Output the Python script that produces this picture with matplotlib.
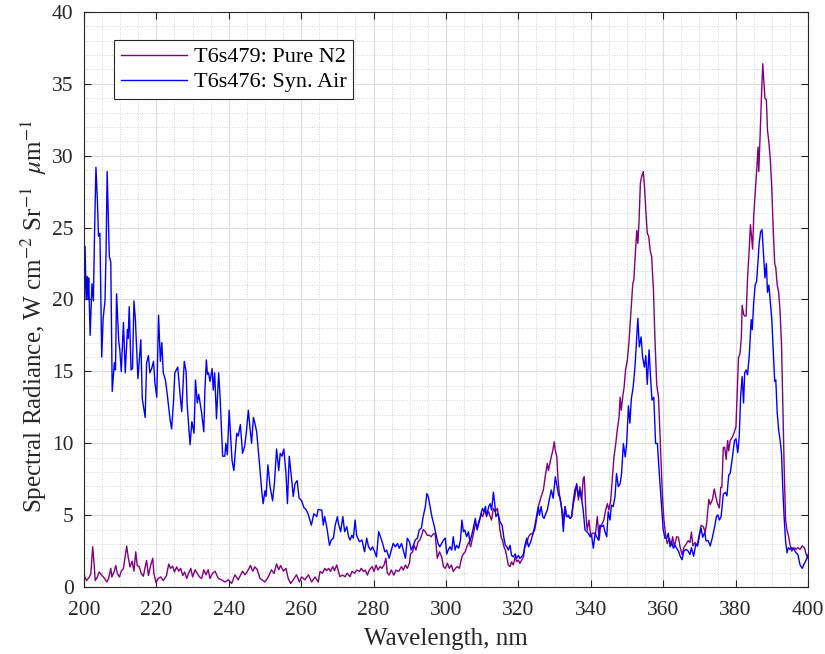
import numpy as np
import matplotlib
matplotlib.use('Agg')
from matplotlib import pyplot as plt
from matplotlib.ticker import MultipleLocator

plt.rcParams['font.family'] = ['Liberation Serif', 'DejaVu Serif']
plt.rcParams['mathtext.fontset'] = 'stix'

## T6s479: Pure N2  (wavelength nm, radiance)
wl_n2 = [200.0, 200.2, 200.7, 201.5, 201.9, 202.4, 202.8, 203.1, 203.7, 204.2, 205.0, 205.7, 206.3, 206.8,
         207.4, 207.7, 208.3, 208.8, 209.2, 209.8, 210.3, 210.9, 211.3, 211.8, 212.2, 212.7, 213.3, 213.8,
         214.3, 214.7, 215.3, 215.8, 216.4, 216.9, 217.3, 217.8, 218.4, 219.0, 219.3, 219.9, 220.5, 221.2,
         221.9, 222.8, 223.4, 223.9, 224.5, 225.0, 225.6, 226.2, 226.7, 227.3, 227.8, 228.4, 228.9, 229.5,
         230.0, 230.7, 231.3, 231.9, 232.5, 233.1, 233.7, 234.3, 234.8, 235.5, 236.2, 237.1, 238.0, 238.9,
         239.9, 240.8, 241.7, 242.6, 243.8, 244.5, 245.4, 246.0, 246.6, 247.2, 247.9, 248.6, 250.0, 250.9,
         251.8, 252.5, 253.2, 253.8, 254.3, 255.1, 255.8, 256.4, 257.1, 257.8, 258.7, 259.5, 260.1, 261.0,
         262.0, 262.9, 263.8, 264.7, 265.2, 265.9, 266.5, 267.0, 267.6, 268.1, 268.7, 269.2, 269.8, 270.2,
         270.7, 271.4, 272.1, 272.7, 273.5, 274.0, 274.8, 275.3, 276.1, 276.6, 277.2, 277.7, 278.3, 278.8,
         279.6, 280.1, 280.7, 281.2, 281.8, 282.3, 282.9, 283.4, 283.8, 284.3, 284.9, 285.6, 286.2, 286.9,
         287.7, 288.2, 288.8, 289.3, 289.9, 290.2, 290.8, 291.2, 291.7, 292.3, 292.8, 293.4, 293.7, 294.3,
         294.8, 295.4, 295.9, 296.5, 297.0, 297.6, 298.2, 298.8, 299.3, 299.8, 300.4, 300.9, 301.5, 302.0,
         302.6, 303.1, 303.7, 304.0, 304.4, 304.8, 305.3, 305.9, 306.4, 306.8, 307.2, 307.7, 308.1, 308.6,
         309.2, 309.8, 310.1, 310.7, 311.2, 311.8, 312.2, 312.6, 313.1, 313.6, 314.2, 314.5, 314.9, 315.3,
         315.6, 316.0, 316.4, 316.8, 317.2, 317.7, 318.1, 318.6, 319.1, 319.5, 320.0, 320.4, 320.9, 321.4,
         321.8, 322.3, 322.8, 323.4, 323.9, 324.5, 325.0, 325.6, 326.0, 326.3, 326.9, 327.4, 328.0, 328.3,
         328.9, 329.5, 329.9, 330.2, 330.6, 330.9, 331.3, 331.9, 332.4, 332.9, 333.3, 333.8, 334.3, 334.7,
         335.2, 335.6, 336.1, 336.6, 337.0, 337.5, 337.9, 338.2, 338.7, 339.0, 339.5, 340.0, 340.4, 340.9,
         341.3, 341.8, 342.3, 342.7, 343.2, 343.6, 344.1, 344.6, 345.0, 345.5, 346.0, 346.4, 346.9, 347.3,
         347.8, 348.1, 348.4, 348.8, 349.2, 349.6, 350.1, 350.5, 351.0, 351.6, 351.9, 352.3, 352.7, 353.0,
         353.3, 353.7, 354.0, 354.5, 354.9, 355.2, 355.6, 356.0, 356.4, 356.8, 357.3, 357.7, 358.2, 358.7,
         359.1, 359.5, 359.8, 360.2, 360.6, 361.1, 361.7, 362.2, 362.6, 363.1, 363.7, 364.2, 364.7, 365.2,
         365.7, 366.3, 366.9, 367.4, 367.8, 368.2, 368.8, 369.4, 369.9, 370.5, 371.1, 371.6, 372.0, 372.6,
         373.0, 373.6, 374.1, 374.5, 374.9, 375.5, 375.9, 376.2, 376.6, 377.0, 377.4, 377.8, 378.1, 378.5,
         379.1, 379.5, 380.1, 380.4, 380.8, 381.2, 381.6, 381.8, 382.2, 382.5, 382.9, 383.3, 383.7, 384.1,
         384.4, 384.7, 385.0, 385.4, 385.8, 386.2, 386.4, 386.7, 387.1, 387.5, 387.8, 388.1, 388.5, 388.8,
         389.2, 389.6, 390.0, 390.4, 390.8, 391.1, 391.5, 391.9, 392.3, 392.7, 393.0, 393.4, 393.8, 394.2,
         394.6, 395.0, 395.5, 396.1, 396.7, 397.2, 397.8, 398.4, 399.0, 399.5, 400.0]
rad_n2 = [1.1, 0.7, 0.45, 0.7, 0.95, 2.8, 1.6, 0.45, 0.7, 1.05, 0.8, 0.6, 0.35, 0.6,
          1.3, 0.7, 1.05, 1.5, 0.95, 0.7, 1.1, 1.3, 2.0, 2.85, 2.1, 1.4, 1.8, 1.1,
          2.45, 1.5, 1.4, 0.95, 0.75, 1.4, 1.85, 0.8, 1.5, 2.0, 0.95, 0.3, 0.6, 0.7,
          0.45, 0.8, 1.6, 1.3, 1.45, 1.05, 1.4, 1.1, 1.3, 0.8, 1.05, 0.6, 0.95, 1.3,
          0.7, 1.2, 0.95, 0.7, 0.6, 1.2, 0.85, 1.2, 0.6, 0.95, 1.1, 0.6, 0.5, 0.35,
          0.5, 0.25, 0.85, 0.5, 1.1, 0.85, 1.2, 1.5, 1.1, 1.4, 1.2, 0.6, 0.35, 0.7,
          1.2, 0.95, 1.6, 1.2, 1.5, 1.1, 1.3, 0.6, 0.25, 0.5, 0.85, 0.35, 0.7, 0.5,
          0.85, 0.35, 0.7, 0.35, 1.08, 0.96, 1.3, 1.14, 1.3, 1.08, 1.42, 1.14, 1.53, 1.18,
          0.72, 0.83, 0.72, 0.96, 0.72, 1.08, 0.96, 1.18, 1.08, 1.3, 1.08, 1.18, 0.83, 1.18,
          1.42, 1.08, 1.53, 1.18, 1.42, 1.3, 1.53, 2.0, 0.96, 0.83, 1.18, 0.83, 1.18, 1.08,
          1.42, 1.18, 1.53, 1.3, 1.65, 2.3, 2.45, 2.9, 2.57, 3.15, 3.27, 3.7, 4.0, 3.85,
          3.6, 3.6, 3.5, 3.7, 3.7, 2.0, 2.45, 2.1, 1.42, 1.3, 1.65, 1.3, 1.53, 1.08,
          1.3, 1.42, 1.3, 1.65, 2.1, 2.3, 2.45, 2.9, 3.15, 2.8, 3.27, 3.85, 4.4, 4.2,
          4.66, 5.1, 4.9, 5.35, 5.0, 5.24, 4.9, 4.66, 5.47, 5.24, 5.47, 4.9, 3.97, 3.4,
          3.27, 2.8, 2.57, 2.1, 1.53, 1.42, 1.76, 1.53, 2.1, 1.76, 1.88, 1.65, 1.88, 2.1,
          2.8, 3.03, 3.5, 3.7, 3.7, 3.97, 4.66, 5.7, 6.05, 6.3, 6.75, 7.67, 8.6, 8.1,
          8.85, 9.5, 10.1, 9.5, 9.1, 7.67, 6.5, 5.6, 4.66, 5.6, 4.9, 4.9, 4.77, 4.9,
          5.8, 6.3, 7.2, 6.05, 6.98, 6.05, 7.55, 7.67, 4.9, 3.97, 4.66, 3.5, 3.74, 3.74,
          3.74, 4.9, 3.27, 4.2, 4.43, 4.66, 5.35, 5.8, 5.35, 6.05, 7.67, 9.05, 9.98, 10.9,
          11.8, 13.2, 12.3, 13.2, 13.9, 15.1, 15.8, 16.9, 18.8, 21.1, 21.4, 23.2, 24.8, 23.9,
          25.3, 28.1, 28.5, 28.9, 27.6, 26.2, 24.6, 24.4, 23.4, 23.0, 20.7, 17.4, 14.1, 13.2,
          10.7, 8.35, 6.3, 4.66, 3.74, 3.03, 3.39, 2.9, 3.5, 2.8, 3.5, 3.46, 2.74, 2.26,
          2.74, 2.98, 3.22, 3.1, 3.82, 2.86, 3.1, 2.86, 3.58, 4.3, 4.18, 3.82, 4.42, 6.1,
          5.74, 6.1, 6.82, 6.34, 5.86, 5.5, 6.94, 6.94, 9.71, 9.71, 8.87, 10.19, 9.47, 10.19,
          10.43, 10.67, 11.15, 13.3, 15.96, 16.2, 17.4, 19.6, 18.97, 18.85, 18.85, 21.5, 23.2, 25.2,
          24.4, 23.5, 25.8, 27.3, 28.9, 30.6, 28.9, 30.9, 33.8, 36.4, 35.2, 34.0, 33.9, 31.8,
          30.9, 29.7, 27.7, 24.86, 22.5, 22.2, 21.0, 20.5, 19.1, 16.7, 13.3, 8.5, 4.66, 3.94,
          3.58, 2.98, 2.5, 2.74, 2.62, 2.74, 2.62, 2.86, 2.74, 2.26, 2.0]

## T6s476: Syn. Air
wl_air = [200.0, 200.3, 200.6, 200.9, 201.1, 201.3, 201.7, 202.2, 202.6, 202.9, 203.3, 203.7, 204.0, 204.4,
          204.9, 205.3, 205.8, 206.1, 206.4, 207.0, 207.4, 207.8, 208.4, 208.7, 209.0, 209.6, 209.9, 210.3,
          210.9, 211.4, 212.0, 212.2, 212.5, 213.0, 213.4, 213.8, 214.2, 214.9, 215.7, 216.1, 216.9, 217.3,
          217.8, 218.2, 218.7, 219.2, 219.6, 220.1, 220.6, 221.1, 221.5, 221.9, 222.5, 223.0, 223.8, 224.2,
          224.7, 225.1, 225.9, 226.5, 227.0, 227.7, 228.2, 228.5, 229.3, 229.8, 230.4, 230.8, 231.3, 231.7,
          232.5, 233.1, 233.4, 233.8, 234.1, 234.4, 234.8, 235.4, 235.7, 236.1, 236.6, 237.2, 237.6, 238.3,
          238.9, 239.2, 239.6, 240.1, 240.9, 241.4, 242.2, 242.6, 243.2, 243.8, 244.4, 244.9, 245.4, 245.8,
          246.3, 246.8, 247.2, 247.7, 248.4, 249.1, 249.5, 250.0, 250.3, 250.8, 251.4, 252.1, 252.6, 253.2,
          253.8, 254.2, 254.7, 255.2, 255.8, 256.2, 256.7, 257.4, 257.8, 258.3, 258.9, 259.4, 260.1, 260.8,
          261.3, 261.9, 262.8, 263.5, 264.3, 264.7, 265.7, 266.1, 266.5, 267.2, 267.8, 268.3, 268.9, 269.4,
          270.0, 270.3, 270.9, 271.5, 272.0, 272.6, 273.1, 273.5, 274.0, 274.4, 274.9, 275.3, 276.1, 276.8,
          277.5, 278.1, 278.6, 279.2, 279.7, 280.3, 280.8, 281.4, 281.9, 282.5, 283.1, 283.6, 284.3, 284.9,
          285.4, 286.0, 286.6, 287.1, 287.7, 288.2, 288.8, 289.3, 289.9, 290.4, 291.0, 291.5, 292.1, 292.6,
          293.2, 293.7, 294.3, 294.7, 295.1, 295.6, 296.1, 296.7, 297.2, 297.8, 298.3, 298.8, 299.3, 299.8,
          300.2, 300.6, 301.1, 301.6, 302.0, 302.5, 302.9, 303.5, 304.0, 304.4, 304.8, 305.2, 305.7, 306.2,
          306.6, 307.2, 307.7, 308.1, 308.6, 309.2, 309.8, 310.1, 310.5, 310.9, 311.2, 311.8, 312.2, 312.6,
          313.1, 313.5, 313.8, 314.4, 314.9, 315.5, 316.0, 316.4, 316.8, 317.2, 317.7, 318.1, 318.6, 319.1,
          319.5, 320.0, 320.4, 320.9, 321.4, 321.8, 322.3, 322.8, 323.4, 323.9, 324.5, 325.0, 325.5, 325.8,
          326.3, 326.7, 327.1, 327.4, 328.0, 328.5, 329.1, 329.6, 330.2, 330.6, 331.1, 331.5, 332.0, 332.4,
          332.9, 333.3, 333.8, 334.3, 334.7, 335.2, 335.6, 336.1, 336.6, 337.0, 337.5, 337.9, 338.4, 338.9,
          339.3, 339.8, 340.2, 340.7, 341.2, 341.6, 342.1, 342.5, 343.0, 343.5, 343.9, 344.4, 344.8, 345.3,
          345.7, 346.2, 346.7, 347.1, 347.6, 348.1, 348.5, 349.0, 349.5, 349.9, 350.4, 350.8, 351.2, 351.7,
          352.2, 352.7, 353.0, 353.4, 353.9, 354.3, 354.8, 355.2, 355.6, 356.1, 356.5, 356.9, 357.4, 357.9,
          358.4, 358.8, 359.3, 359.7, 360.0, 360.5, 361.0, 361.4, 361.9, 362.3, 362.8, 363.3, 363.7, 364.2,
          364.7, 365.2, 365.7, 366.3, 366.9, 367.4, 367.8, 368.4, 369.0, 369.5, 370.1, 370.5, 370.9, 371.5,
          371.8, 372.4, 373.0, 373.6, 374.1, 374.7, 375.1, 375.5, 376.0, 376.6, 377.2, 377.6, 378.1, 378.5,
          379.1, 379.7, 380.1, 380.6, 381.0, 381.4, 381.8, 382.2, 382.5, 382.9, 383.3, 383.8, 384.3, 384.6,
          385.0, 385.4, 385.8, 386.2, 386.5, 386.9, 387.3, 387.7, 388.1, 388.5, 388.8, 389.2, 389.6, 390.0,
          390.4, 390.8, 391.1, 391.5, 391.9, 392.3, 392.7, 393.0, 393.4, 393.8, 394.2, 394.6, 395.0, 395.5,
          396.1, 396.7, 397.2, 397.8, 398.4, 398.8, 399.3, 399.7, 400.0]
rad_air = [18.6, 23.7, 20.0, 21.6, 20.0, 21.5, 17.5, 21.1, 19.9, 24.4, 29.2, 26.9, 24.4, 24.6,
           16.0, 18.7, 19.9, 23.4, 28.9, 23.0, 22.6, 13.6, 15.6, 15.1, 20.4, 17.1, 16.5, 15.0,
           18.4, 14.9, 17.9, 17.3, 19.5, 15.1, 15.2, 19.9, 18.6, 14.5, 17.2, 13.1, 11.8, 15.6,
           16.1, 14.9, 15.2, 15.7, 14.2, 13.2, 18.9, 15.7, 17.0, 14.9, 14.4, 13.4, 11.6, 11.0,
           12.8, 14.9, 15.3, 13.5, 12.2, 15.7, 15.0, 12.7, 9.9, 11.5, 10.7, 14.4, 12.8, 13.4,
           12.1, 10.8, 13.7, 15.8, 14.8, 14.9, 14.3, 15.2, 13.7, 14.9, 11.7, 14.9, 13.2, 9.1,
           9.1, 10.0, 9.2, 12.3, 8.8, 8.1, 10.7, 10.5, 11.3, 9.3, 9.8, 10.9, 12.3, 11.2,
           10.0, 11.8, 11.4, 10.8, 8.8, 6.7, 5.8, 6.7, 6.3, 8.5, 7.0, 6.0, 7.2, 9.6,
           8.1, 9.3, 9.1, 9.6, 7.9, 5.8, 9.1, 7.4, 6.3, 7.2, 7.4, 6.2, 6.0, 5.5,
           5.4, 5.1, 4.3, 5.1, 4.9, 5.4, 5.35, 4.3, 4.9, 3.97, 2.9, 3.27, 3.4, 4.3,
           4.9, 4.4, 3.85, 4.9, 3.85, 4.2, 3.5, 3.27, 3.6, 3.4, 4.66, 3.6, 3.15, 3.27,
           2.45, 3.4, 2.8, 2.57, 2.8, 2.45, 2.1, 3.85, 3.5, 3.03, 2.45, 2.57, 2.0, 2.57,
           3.03, 2.8, 3.03, 2.7, 3.03, 2.57, 2.0, 3.4, 3.15, 2.57, 2.9, 3.27, 3.4, 3.97,
           4.1, 4.9, 5.6, 6.5, 6.3, 5.6, 4.9, 4.3, 3.7, 3.03, 2.8, 3.03, 3.27, 3.4,
           2.3, 2.57, 2.8, 2.57, 3.5, 2.57, 2.9, 2.7, 3.27, 4.66, 3.85, 3.97, 3.5, 3.85,
           3.15, 3.7, 4.3, 4.77, 3.97, 4.55, 5.24, 5.47, 5.24, 5.6, 4.9, 5.6, 5.8, 5.35,
           6.6, 5.7, 4.9, 5.1, 4.55, 4.3, 3.4, 2.9, 2.8, 2.57, 2.9, 2.2, 2.1, 2.3,
           2.0, 2.2, 2.0, 2.1, 2.3, 2.9, 3.4, 2.8, 3.15, 3.6, 4.2, 4.9, 5.6, 5.0,
           5.6, 4.9, 4.77, 5.0, 5.35, 6.05, 6.75, 6.17, 7.67, 7.1, 6.4, 6.2, 5.35, 3.85,
           5.6, 4.9, 5.0, 4.77, 4.9, 6.05, 6.75, 7.1, 6.3, 6.75, 6.05, 5.35, 3.97, 3.85,
           3.74, 3.5, 3.62, 2.7, 3.74, 3.5, 3.27, 4.3, 4.2, 4.3, 3.85, 3.5, 5.24, 4.66,
           5.7, 5.6, 6.3, 7.9, 6.98, 7.2, 7.9, 9.98, 9.05, 9.98, 12.6, 11.4, 13.1, 13.9,
           15.3, 17.4, 18.7, 16.7, 17.4, 16.0, 15.3, 16.1, 14.1, 16.5, 14.6, 13.0, 13.2, 9.98,
           9.98, 8.35, 6.5, 5.1, 3.97, 3.39, 3.39, 3.74, 2.8, 3.15, 2.7, 2.9, 2.7, 2.5,
           2.14, 1.9, 2.5, 2.62, 2.5, 2.26, 2.74, 2.14, 2.98, 2.86, 3.7, 4.06, 3.46, 3.82,
           3.22, 3.22, 2.86, 3.46, 4.06, 4.9, 5.02, 4.66, 4.9, 6.46, 6.58, 6.34, 7.79, 7.91,
           8.99, 10.2, 10.31, 9.35, 10.43, 13.3, 14.64, 12.8, 14.88, 15.1, 14.76, 16.2, 18.6, 17.9,
           19.8, 21.0, 21.25, 22.7, 23.9, 24.7, 24.86, 23.2, 21.5, 22.5, 20.5, 21.0, 19.8, 18.6,
           16.4, 14.3, 14.4, 12.1, 10.9, 10.2, 9.23, 7.07, 4.9, 3.22, 2.38, 2.74, 2.62, 2.74,
           2.62, 2.38, 2.26, 1.54, 1.3, 1.54, 1.78, 2.0, 2.26]

fig = plt.figure(figsize=(8.25, 6.54), dpi=100)
ax = fig.add_axes([0.1018, 0.1024, 0.8776, 0.8793])

ax.plot(wl_n2, rad_n2, color='#800080', lw=1.0, label='T6s479: Pure N2')
ax.plot(wl_air, rad_air, color='#0000FF', lw=1.0, label='T6s476: Syn. Air')

ax.set_xlim(200, 400)
ax.set_ylim(0, 40)
ax.xaxis.set_major_locator(MultipleLocator(20))
ax.xaxis.set_minor_locator(MultipleLocator(5))
ax.yaxis.set_major_locator(MultipleLocator(5))
ax.yaxis.set_minor_locator(MultipleLocator(1))

ax.grid(which='major', color='#dcdcdc', lw=0.8, ls='-')
ax.grid(which='minor', color='#c4c4c4', lw=0.6, ls=(0, (1, 2)))
ax.set_axisbelow(True)

ax.tick_params(which='major', direction='in', top=True, right=True, length=5,
               labelsize=15.5, colors='#262626', width=0.8)
ax.tick_params(axis='x', which='major', pad=10)
ax.tick_params(axis='y', which='major', pad=7.5)
ax.tick_params(which='minor', length=0, top=True, right=True)
for s in ax.spines.values():
    s.set_color('#262626')
    s.set_linewidth(0.8)

ax.set_xlabel('Wavelength, nm', fontsize=18, color='#262626', labelpad=6)
ax.set_ylabel(r'Spectral Radiance, W cm$^{-2}$ Sr$^{-1}$  $\mu$m$^{-1}$', fontsize=18,
              color='#262626')
ax.yaxis.set_label_coords(-0.049, 0.471)

leg = ax.legend(loc='upper left', bbox_to_anchor=(0.0414, 0.951), fontsize=16, frameon=True,
                fancybox=False, edgecolor='#262626', framealpha=1, handlelength=3.0,
                borderpad=0.3, labelspacing=0.2, handletextpad=0.3, borderaxespad=0)
leg.get_frame().set_linewidth(0.8)

fig.savefig('out.png', dpi=100)
